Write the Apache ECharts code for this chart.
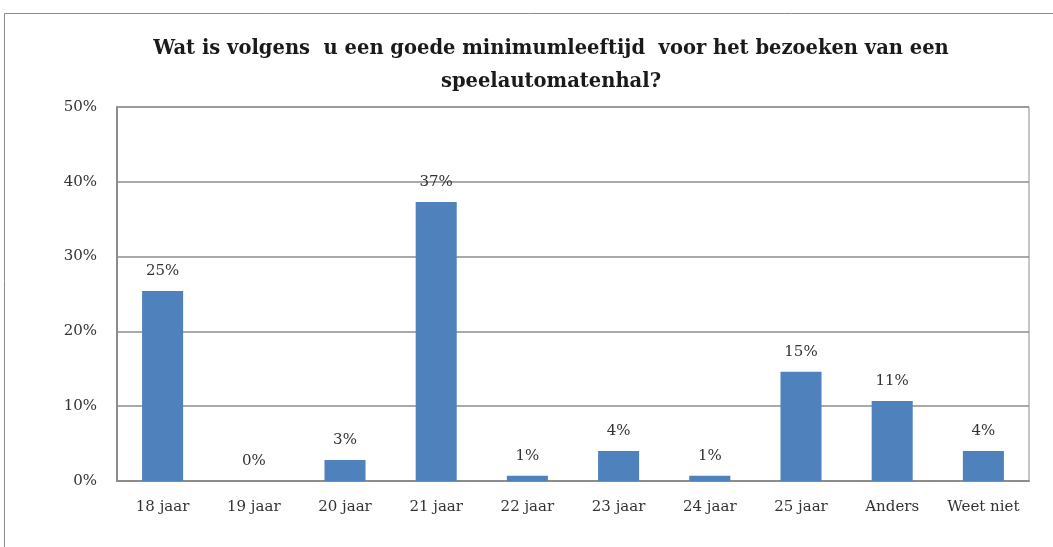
<!DOCTYPE html>
<html><head><meta charset="utf-8">
<script src="https://cdn.jsdelivr.net/npm/echarts@6/dist/echarts.min.js"></script>
<style>html,body{margin:0;padding:0;background:#fff}#c{width:1053px;height:547px}</style>
</head><body><div id="c"></div>
<script>
const titleText = 'Wat is volgens  u een goede minimumleeftijd  voor het bezoeken van een\nspeelautomatenhal?';
const categories = ['18 jaar','19 jaar','20 jaar','21 jaar','22 jaar','23 jaar','24 jaar','25 jaar','Anders','Weet niet'];
const values = [25.4, 0, 2.8, 37.3, 0.7, 4.0, 0.7, 14.6, 10.7, 4.0];
const yTicks = [0, 10, 20, 30, 40, 50];

const chart = echarts.init(document.getElementById('c'));
const serif = 'DejaVu Serif';
chart.setOption({
  animation: false,
  backgroundColor: '#fff',
  graphic: [{type:'rect', shape:{x:4.5,y:13.5,width:1100,height:600}, style:{fill:'none', stroke:'#8c8c8c', lineWidth:1}, silent:true}],
  title: {
    text: titleText, left: 546, top: 27, textAlign: 'center',
    textStyle: {fontFamily: serif, fontWeight: 'bold', fontSize: 19.5, color: '#1a1a1a', lineHeight: 33}
  },
  grid: {left: 117, top: 107, width: 912, height: 374, show: true, borderColor: '#8c8c8c', borderWidth: 1},
  xAxis: {
    type: 'category', data: categories,
    axisLine: {lineStyle: {color: '#8c8c8c', width: 2}},
    axisTick: {show: false},
    axisLabel: {interval: 0, fontFamily: serif, fontSize: 15, color: '#333', margin: 19}
  },
  yAxis: {
    type: 'value', min: 0, max: 50, interval: 10,
    axisLine: {show: true, lineStyle: {color: '#8c8c8c', width: 2}},
    axisTick: {show: false},
    splitLine: {lineStyle: {color: '#8c8c8c', width: 1.5}},
    axisLabel: {fontFamily: serif, fontSize: 15, color: '#333', margin: 20,
      formatter: v => yTicks.includes(v) ? v + '%' : ''}
  },
  series: [{
    type: 'bar', data: values, barWidth: '45%',
    itemStyle: {color: '#4F81BD'},
    label: {show: true, position: 'top', distance: 12, fontFamily: serif, fontSize: 15, color: '#333',
      formatter: p => Math.round(p.value) + '%'}
  }]
});
</script></body></html>
